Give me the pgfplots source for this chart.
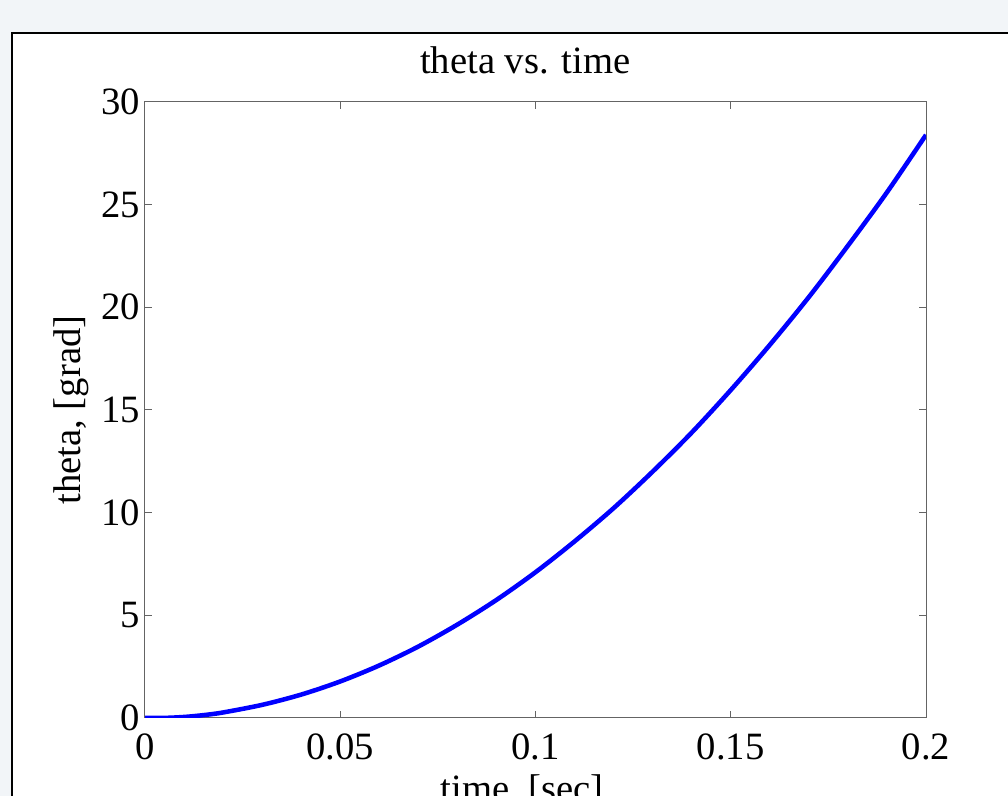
\documentclass[border=0pt]{standalone}
\usepackage{fontspec}
\setmainfont{Liberation Serif}
\usepackage{pgfplots}
\pgfplotsset{compat=1.18}
\definecolor{pagebg}{RGB}{242,245,248}
\definecolor{axisgray}{RGB}{100,100,100}
\newcommand{\chartfont}{\fontsize{29}{34}\selectfont}
\begin{document}
\begin{tikzpicture}
% page size fixed first, then background and figure frame
\useasboundingbox (0,0) rectangle (756pt,597pt);
\fill[pagebg] (0,0) rectangle (756pt,597pt);
\clip (0,0) rectangle (756pt,597pt);
\filldraw[fill=white, draw=black, line width=1.5pt] (9pt,-20pt) rectangle (780pt,572.25pt);
\begin{axis}[
    at={(108.75pt,58.5pt)}, anchor=south west,
    scale only axis, width=585.75pt, height=462pt,
    xmin=0, xmax=0.2, ymin=0, ymax=30,
    xtick={0,0.05,0.1,0.15,0.2},
    xticklabels={0,0.05,0.1,0.15,0.2},
    ytick={0,5,10,15,20,25,30},
    tick align=inside, major tick length=5pt,
    tick style={axisgray, line width=0.75pt},
    axis line style={axisgray, line width=0.75pt},
    /pgf/number format/assume math mode=true,
    tick label style={font=\chartfont},
    xticklabel style={yshift=-8.5pt},
    title={theta vs. time},
    title style={font=\chartfont, at={(0.487,1)}, anchor=base, yshift=15pt},
    xlabel={time, [sec]},
    xlabel style={font=\chartfont, at={(axis description cs:0.483,0)}, anchor=base, yshift=-63pt},
    ylabel={theta, [grad]},
    ylabel style={font=\chartfont, at={(axis description cs:-0.0832,0.5)}, anchor=base},
]
\addplot[color={rgb,255:red,0;green,0;blue,255}, line width=3.4pt, smooth] coordinates {
    (0,0) (0.005,0.005) (0.01,0.05) (0.015,0.14) (0.02,0.27) (0.03,0.64)
    (0.04,1.14) (0.05,1.78) (0.06,2.56) (0.07,3.48) (0.08,4.55)
    (0.09,5.75) (0.10,7.10) (0.11,8.60) (0.12,10.22) (0.13,12.0)
    (0.14,13.9) (0.15,15.97) (0.16,18.17) (0.17,20.5) (0.18,23.0)
    (0.19,25.6) (0.20,28.4)
};
\end{axis}
\end{tikzpicture}
\end{document}
